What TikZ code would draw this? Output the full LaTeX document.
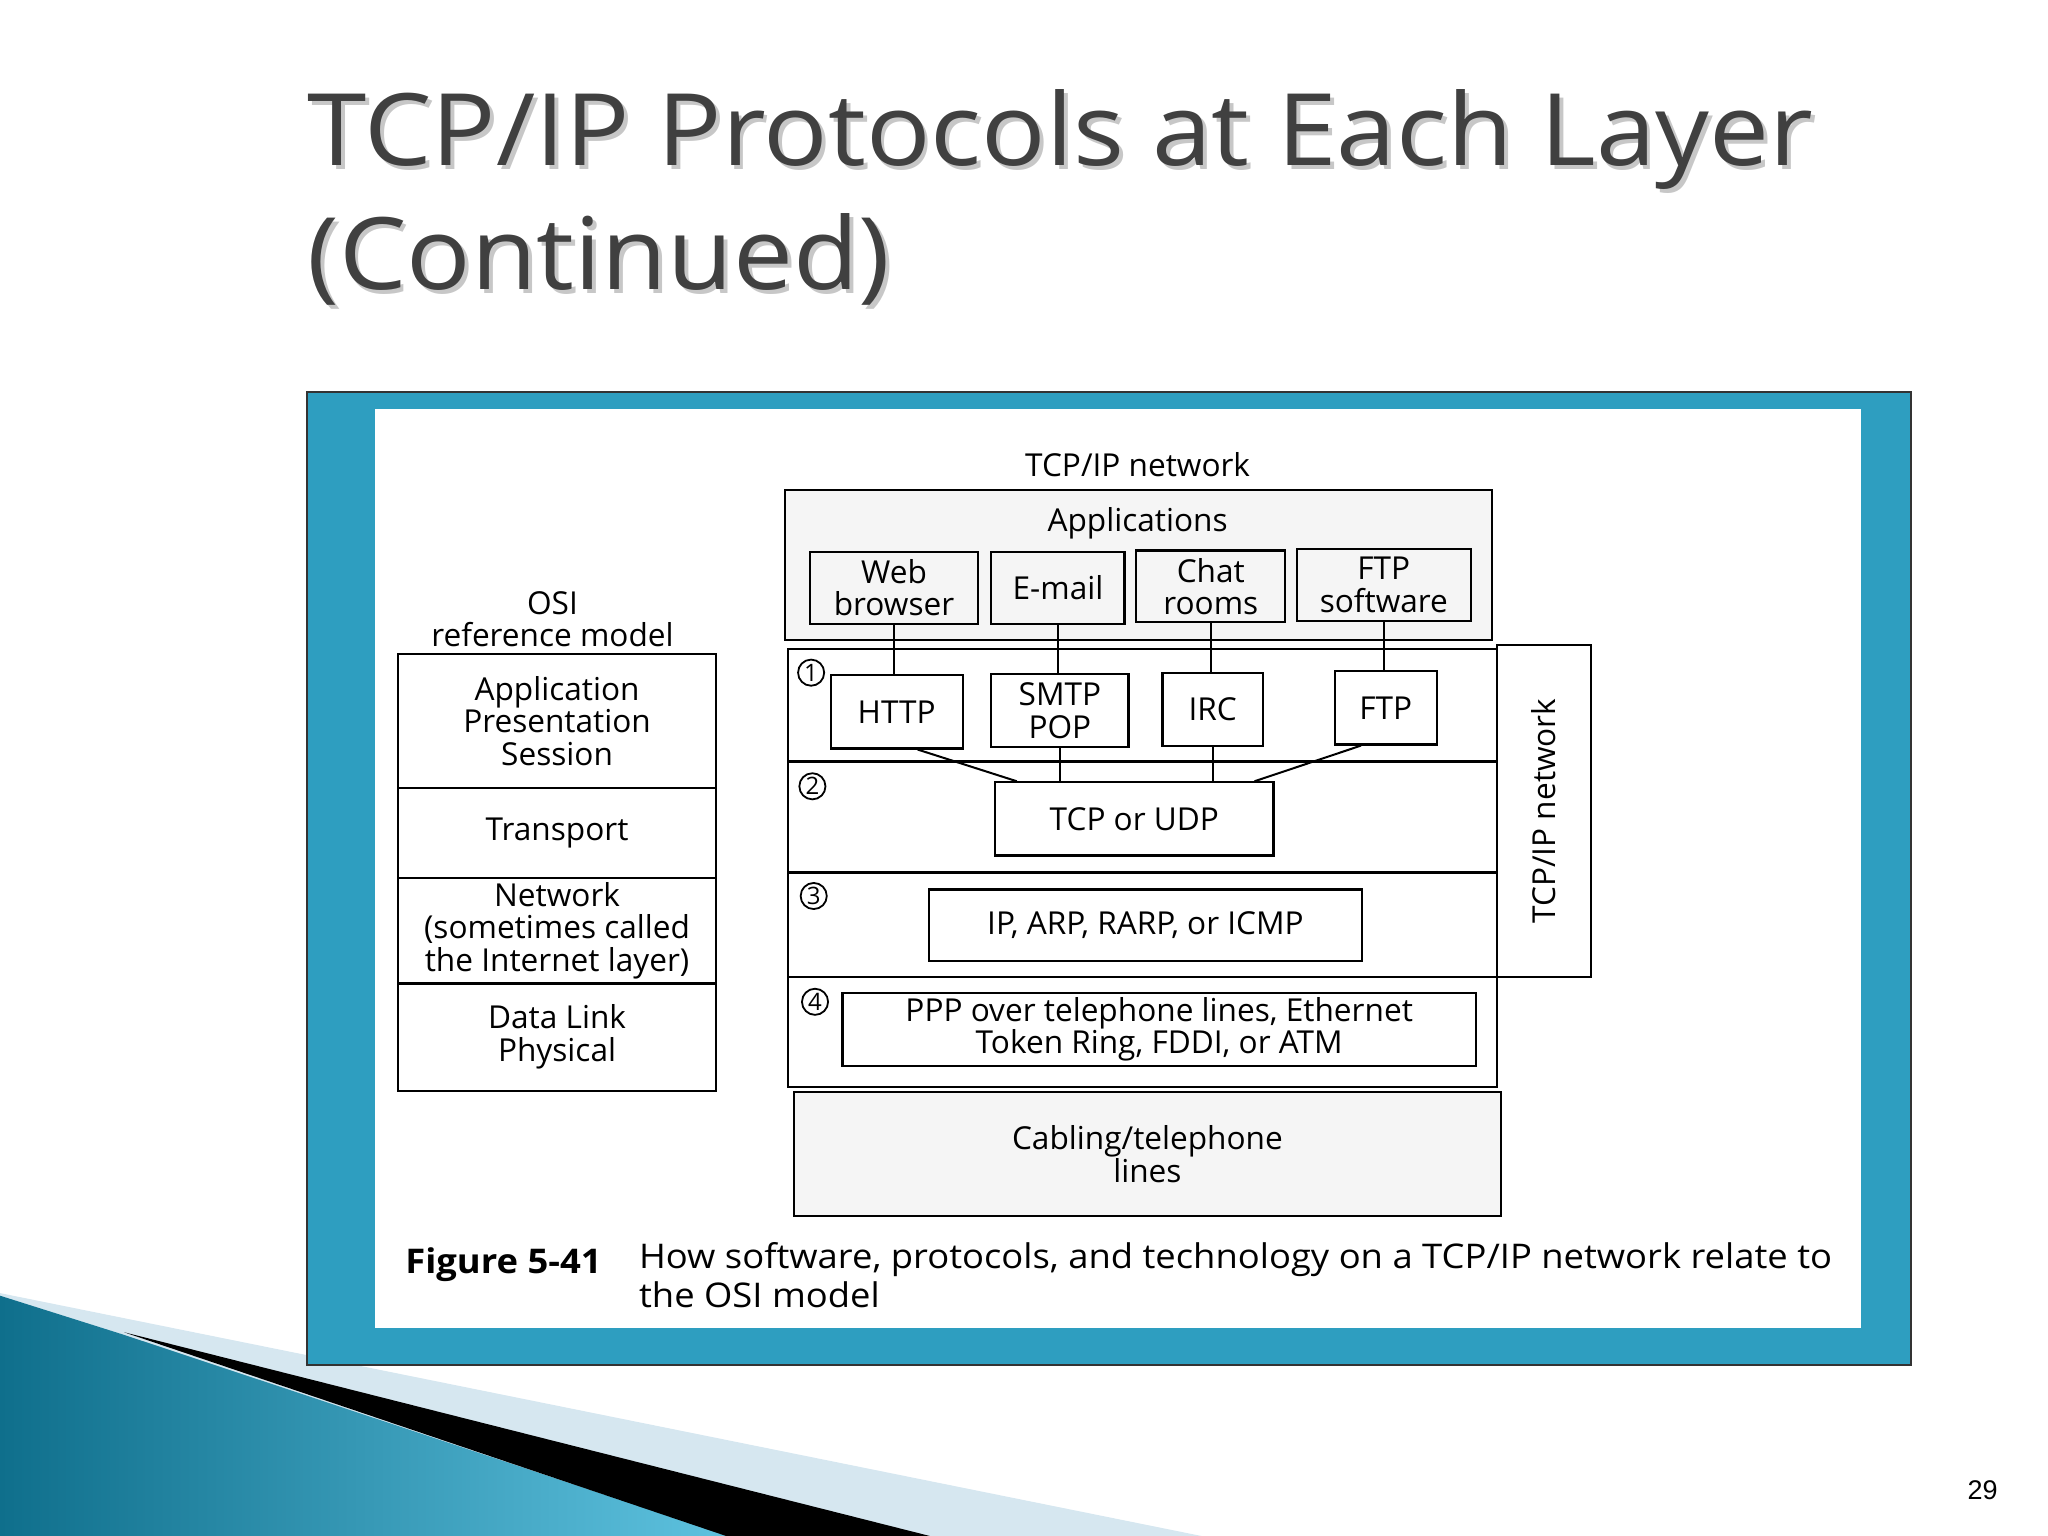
\documentclass[tikz,border=0pt]{standalone}
\usepackage{fontspec}
\setmainfont{Open Sans}
\newfontfamily\titlefont[FakeStretch=1.07]{Open Sans}
\newfontfamily\capfont[FakeStretch=1.07]{Open Sans}
\newfontfamily\pagefont{Liberation Sans}
\usetikzlibrary{positioning}
\newlength{\pxu}
\setlength{\pxu}{0.653pt}
\newcommand{\diagsize}{\fontsize{15.8}{16.3}\selectfont}
\definecolor{frameteal}{HTML}{2E9EC0}
\definecolor{titlegray}{HTML}{404040}
\definecolor{swooshdark}{HTML}{0F6F8C}
\definecolor{swooshlight}{HTML}{5EC2DF}
\definecolor{swooshpale}{HTML}{D6E7F0}

\begin{document}
\begin{tikzpicture}[x={(0.653pt,0)}, y={(0,-0.653pt)},
  box/.style={draw, line width=1.1pt, align=center, inner sep=0pt, font=\diagsize},
  plain/.style={align=center, inner sep=0pt, font=\diagsize},
  osirow/.style={box, minimum width=243\pxu},
  layerrow/.style={box, minimum width=543\pxu},
  appbox/.style={box, minimum height=55\pxu},
  protobox/.style={box, minimum height=56\pxu},
  stipple/.style={box, fill=black!4},
  num/.style={circle, draw, line width=0.9pt, inner sep=0pt, minimum size=20\pxu, font=\fontsize{12}{13}\selectfont},
  link/.style={line width=1pt},
  titleline/.style={anchor=base west, inner sep=0pt, font=\titlefont\fontsize{50}{60}\selectfont}
]
\useasboundingbox (0,0) rectangle (1568,1176);

\fill[swooshpale] (0,990) -- (920,1176) -- (0,1176) -- cycle;
\shade[left color=swooshdark, right color=swooshlight] (0,992) -- (95,1022) -- (558,1176) -- (0,1176) -- cycle;
\fill[black] (95,1020) -- (712,1176) -- (556,1176) -- cycle;

\node[titleline, text=black!22] (titleashadow) at (238,130) {TCP/IP Protocols at Each Layer};
\node[titleline, text=black!22] (titlebshadow) at (238,225) {(Continued)};
\node[titleline, text=titlegray] (titlea) at (235,127) {TCP/IP Protocols at Each Layer};
\node[titleline, text=titlegray] (titleb) at (235,222) {(Continued)};

\draw[fill=frameteal, draw=black!80, line width=0.8pt] (235,300) rectangle (1463,1045);
\fill[white] (287,313) rectangle (1425,1017);

\node[plain] (osihead) at (423,474) {OSI\\reference model};
\node[osirow, minimum height=102\pxu] (osiapp) at (426.5,552) {Application\\Presentation\\Session};
\node[osirow, minimum height=69\pxu] (ositrans) at (426.5,637.5) {Transport};
\node[osirow, minimum height=81\pxu] (osinet) at (426.5,712.5) {Network\\(sometimes called\\the Internet layer)};
\node[osirow, minimum height=82\pxu] (osidl) at (426.5,794) {Data Link\\Physical};

\node[plain] (tcphead) at (871,356) {TCP/IP network};
\node[stipple, minimum width=541\pxu, minimum height=115\pxu] (apps) at (871.5,432.5) {};
\node[plain] (appslabel) at (871,401) {Applications};
\node[appbox, minimum width=129\pxu] (web) at (684.5,450) {Web\\browser};
\node[appbox, minimum width=102\pxu] (email) at (810,450) {E-mail};
\node[appbox, minimum width=114\pxu] (chat) at (927,449) {Chat\\rooms};
\node[appbox, minimum width=133\pxu] (ftpsw) at (1059.5,448) {FTP\\software};

\node[box, rotate=90, minimum width=254\pxu, minimum height=72\pxu] (netside) at (1182,621) {TCP/IP network};
\node[layerrow, minimum height=86\pxu] (row1) at (874.5,540) {};
\node[layerrow, minimum height=85\pxu] (row2) at (874.5,625.5) {};
\node[layerrow, minimum height=80\pxu] (row3) at (874.5,708) {};
\node[layerrow, minimum height=84\pxu] (row4) at (874.5,790) {};

\node[num] (numa) at (621,515) {1};
\node[num] (numb) at (622,602) {2};
\node[num] (numc) at (623,686) {3};
\node[num] (numd) at (624,767) {4};

\node[protobox, minimum width=101\pxu] (http) at (686.5,545) {HTTP};
\node[protobox, minimum width=105\pxu] (smtp) at (811.5,544) {SMTP\\POP};
\node[protobox, minimum width=77\pxu] (irc) at (928.5,543) {IRC};
\node[protobox, minimum width=78\pxu] (ftp) at (1061,542) {FTP};
\node[protobox, minimum width=213\pxu] (tcpudp) at (868.5,627) {TCP or UDP};
\node[protobox, minimum width=332\pxu, minimum height=55\pxu] (ip) at (877,708.5) {IP, ARP, RARP, or ICMP};
\node[protobox, minimum width=485\pxu] (ppp) at (887.5,788) {PPP over telephone lines, Ethernet\\Token Ring, FDDI, or ATM};
\node[stipple, minimum width=541\pxu, minimum height=95\pxu] (cabling) at (878.5,883.5) {Cabling/telephone\\lines};

\draw[link] (web.south) -- (web.south |- http.north);
\draw[link] (email.south) -- (email.south |- smtp.north);
\draw[link] (chat.south) -- (chat.south |- irc.north);
\draw[link] (ftpsw.south) -- (ftpsw.south |- ftp.north);
\draw[link] ([xshift=16\pxu]http.south) -- ([xshift=-90\pxu]tcpudp.north);
\draw[link] (smtp.south) -- (smtp.south |- tcpudp.north);
\draw[link] (irc.south) -- (irc.south |- tcpudp.north);
\draw[link] ([xshift=-19\pxu]ftp.south) -- ([xshift=92\pxu]tcpudp.north);

\node[anchor=west, inner sep=0pt, font=\capfont\bfseries\fontsize{17}{19.6}\selectfont] (figno) at (310,968) {Figure 5-41};
\node[anchor=north west, align=left, inner sep=0pt, font=\capfont\fontsize{17}{19.6}\selectfont] (figtext) at (489,951) {How software, protocols, and technology on a TCP/IP network relate to\\the OSI model};

\node[font=\pagefont\fontsize{13.5}{15}\selectfont, inner sep=0pt] (pageno) at (1518,1141) {29};
\end{tikzpicture}
\end{document}
